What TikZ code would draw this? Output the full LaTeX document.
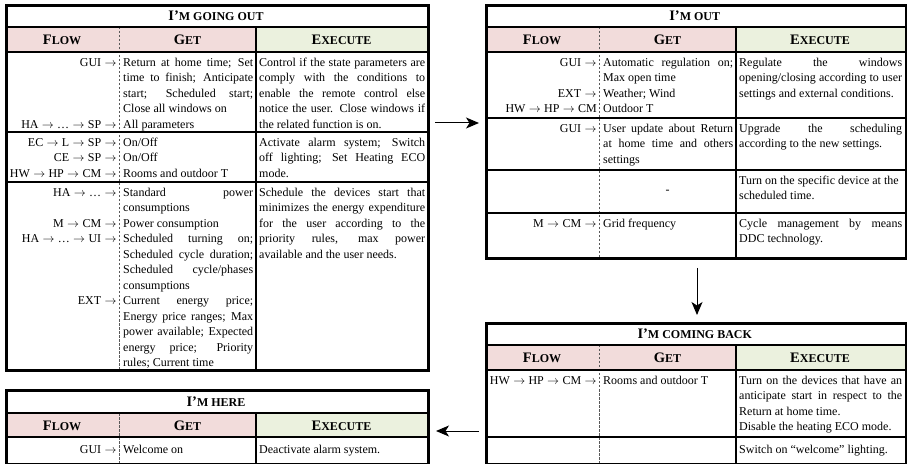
\documentclass[tikz,border=0pt]{standalone}
\usepackage{fontspec}
\setmainfont{Liberation Serif}
\usetikzlibrary{arrows.meta}
\definecolor{pinkc}{HTML}{F2DCDB}
\definecolor{greenc}{HTML}{EBF1DE}
\newcommand\sm[1]{{\fontsize{12bp}{13bp}\selectfont #1}}
\newcommand\R{\rule{0pt}{12bp}}
\newcommand\ra{\ensuremath{\mskip0.5mu\rightarrow\mskip0.5mu}}
\newcommand\jg[1]{\makebox[130bp][s]{#1}}
\newcommand\jea[1]{\makebox[166bp][s]{#1}}
\newcommand\jeb[1]{\makebox[163bp][s]{#1}}
\tikzset{
  thk/.style={line width=2.6bp},
  dsh/.style={line width=0.8bp, black!65, dash pattern=on 2.5bp off 1.5bp},
  frm/.style={draw, line width=2.6bp, inner sep=0, anchor=north west},
  hd/.style={font=\fontsize{14.5bp}{16bp}\selectfont\bfseries, inner sep=0, anchor=base},
  cl/.style={anchor=north west, inner sep=0, align=left, font=\fontsize{12bp}{15.5bp}\selectfont},
  cr/.style={anchor=north east, inner sep=0, align=right, font=\fontsize{12bp}{15.5bp}\selectfont},
  arr/.style={line width=1bp, -{Stealth[length=13bp,width=11bp,inset=3.5bp]}},
}
\begin{document}
\begin{tikzpicture}[x=1bp,y=-1bp]
\useasboundingbox (0,0) rectangle (907,464);
% ================= T1: I'm going out =================
\fill[pinkc] (5,27) rectangle (256,52);
\fill[greenc] (256,27) rectangle (427,52);
\draw[dsh] (119,27) -- (119,369);
\draw[thk] (256,27) -- (256,369);
\draw[thk] (5,27) -- (427,27) (5,52) -- (427,52) (5,132) -- (427,132) (5,182) -- (427,182);
\node[frm, minimum width=422bp, minimum height=365bp] (t1) at (5,4) {};
\node[hd] (t1t) at (216,20.5) {I’\sm{M GOING OUT}};
\node[hd] (t1hf) at (62,44.5) {F\sm{LOW}};
\node[hd] (t1hg) at (187.5,44.5) {G\sm{ET}};
\node[hd] (t1he) at (341.5,44.5) {E\sm{XECUTE}};
\node[cr] (t1r1f) at (117,54) {\R GUI \ra\\\mbox{}\\\mbox{}\\\mbox{}\\HA \ra{} … \ra{} SP \ra};
\node[cl] (t1r1g) at (123,54) {\R\jg{Return at home time; Set}\\\jg{time to finish; Anticipate}\\\jg{start; Scheduled start;}\\Close all windows on\\All parameters};
\node[cl] (t1r1e) at (259,54) {\R\jea{Control if the state parameters are}\\\jea{comply with the conditions to}\\\jea{enable the remote control else}\\\jea{notice the user. Close windows if}\\the related function is on.};
\node[cr] (t1r2f) at (117,134) {\R EC \ra{} L \ra{} SP \ra\\CE \ra{} SP \ra\\HW \ra{} HP \ra{} CM \ra};
\node[cl] (t1r2g) at (123,134) {\R On/Off\\On/Off\\Rooms and outdoor T};
\node[cl] (t1r2e) at (259,134) {\R\jea{Activate alarm system; Switch}\\\jea{off lighting; Set Heating ECO}\\mode.};
\node[cr] (t1r3f) at (117,184) {\R HA \ra{} … \ra\\\mbox{}\\M \ra{} CM \ra\\HA \ra{} … \ra{} UI \ra\\\mbox{}\\\mbox{}\\\mbox{}\\EXT \ra};
\node[cl] (t1r3g) at (123,184) {\R\jg{Standard power}\\consumptions\\Power consumption\\\jg{Scheduled turning on;}\\\jg{Scheduled cycle duration;}\\\jg{Scheduled cycle/phases}\\consumptions\\\jg{Current energy price;}\\\jg{Energy price ranges; Max}\\\jg{power available; Expected}\\\jg{energy price; Priority}\\rules; Current time};
\node[cl] (t1r3e) at (259,184) {\R\jea{Schedule the devices start that}\\\jea{minimizes the energy expenditure}\\\jea{for the user according to the}\\\jea{priority rules, max power}\\available and the user needs.};
% ================= T4: I'm here =================
\fill[pinkc] (5,413) rectangle (256,437);
\fill[greenc] (256,413) rectangle (427,437);
\draw[dsh] (119,413) -- (119,462.5);
\draw[thk] (256,413) -- (256,462.5);
\draw[thk] (5,413) -- (427,413) (5,437) -- (427,437);
\node[frm, minimum width=422bp, minimum height=73.5bp] (t4) at (5,389) {};
\node[hd] (t4t) at (216,406) {I’\sm{M HERE}};
\node[hd] (t4hf) at (62,430) {F\sm{LOW}};
\node[hd] (t4hg) at (187.5,430) {G\sm{ET}};
\node[hd] (t4he) at (341.5,430) {E\sm{XECUTE}};
\node[cr] (t4r1f) at (117,441.5) {\R GUI \ra};
\node[cl] (t4r1g) at (123,441.5) {\R Welcome on};
\node[cl] (t4r1e) at (259,441.5) {\R Deactivate alarm system.};
% ================= T2: I'm out =================
\fill[pinkc] (485,27) rectangle (736,52);
\fill[greenc] (736,27) rectangle (904.5,52);
\draw[dsh] (599,27) -- (599,257);
\draw[thk] (736,27) -- (736,257);
\draw[thk] (485,27) -- (904.5,27) (485,52) -- (904.5,52) (485,118) -- (904.5,118) (485,170) -- (904.5,170) (485,213) -- (904.5,213);
\node[frm, minimum width=419.5bp, minimum height=253bp] (t2) at (485,4) {};
\node[hd] (t2t) at (694.75,20.5) {I’\sm{M OUT}};
\node[hd] (t2hf) at (542,44.5) {F\sm{LOW}};
\node[hd] (t2hg) at (667.5,44.5) {G\sm{ET}};
\node[hd] (t2he) at (820,44.5) {E\sm{XECUTE}};
\node[cr] (t2r1f) at (597,54) {\R GUI \ra\\\mbox{}\\EXT \ra\\HW \ra{} HP \ra{} CM};
\node[cl] (t2r1g) at (603,54) {\R\jg{Automatic regulation on;}\\Max open time\\Weather; Wind\\Outdoor T};
\node[cl] (t2r1e) at (739,54) {\R\jeb{Regulate the windows}\\\jeb{opening/closing according to user}\\settings and external conditions.};
\node[cr] (t2r2f) at (597,120) {\R GUI \ra};
\node[cl] (t2r2g) at (603,120) {\R\jg{User update about Return}\\\jg{at home time and others}\\settings};
\node[cl] (t2r2e) at (739,120) {\R\jeb{Upgrade the scheduling}\\according to the new settings.};
\node[font=\fontsize{12bp}{15.5bp}\selectfont, inner sep=0, anchor=base] (t2r3g) at (667.5,194) {-};
\node[cl] (t2r3e) at (739,172) {\R Turn on the specific device at the\\scheduled time.};
\node[cr] (t2r4f) at (597,215) {\R M \ra{} CM \ra};
\node[cl] (t2r4g) at (603,215) {\R Grid frequency};
\node[cl] (t2r4e) at (739,215) {\R\jeb{Cycle management by means}\\DDC technology.};
% ================= T3: I'm coming back =================
\fill[pinkc] (485,345) rectangle (736,370);
\fill[greenc] (736,345) rectangle (904.5,370);
\draw[dsh] (599,345) -- (599,462.5);
\draw[thk] (736,345) -- (736,462.5);
\draw[thk] (485,345) -- (904.5,345) (485,370) -- (904.5,370) (485,437) -- (904.5,437);
\node[frm, minimum width=419.5bp, minimum height=140.5bp] (t3) at (485,322) {};
\node[hd] (t3t) at (694.75,338.5) {I’\sm{M COMING BACK}};
\node[hd] (t3hf) at (542,362.5) {F\sm{LOW}};
\node[hd] (t3hg) at (667.5,362.5) {G\sm{ET}};
\node[hd] (t3he) at (820,362.5) {E\sm{XECUTE}};
\node[cr] (t3r1f) at (597,372) {\R HW \ra{} HP \ra{} CM \ra};
\node[cl] (t3r1g) at (603,372) {\R Rooms and outdoor T};
\node[cl] (t3r1e) at (739,372) {\R\jeb{Turn on the devices that have an}\\\jeb{anticipate start in respect to the}\\Return at home time.\\Disable the heating ECO mode.};
\node[cl] (t3r2e) at (739,441.5) {\R Switch on “welcome” lighting.};
% ================= arrows =================
\coordinate (a1s) at (435,123);
\coordinate (a1e) at (479,123);
\draw[arr] (a1s) -- (a1e);
\coordinate (a2s) at (697,268);
\coordinate (a2e) at (697,315);
\draw[arr] (a2s) -- (a2e);
\coordinate (a3s) at (479,431);
\coordinate (a3e) at (436,431);
\draw[arr] (a3s) -- (a3e);
\end{tikzpicture}
\end{document}
